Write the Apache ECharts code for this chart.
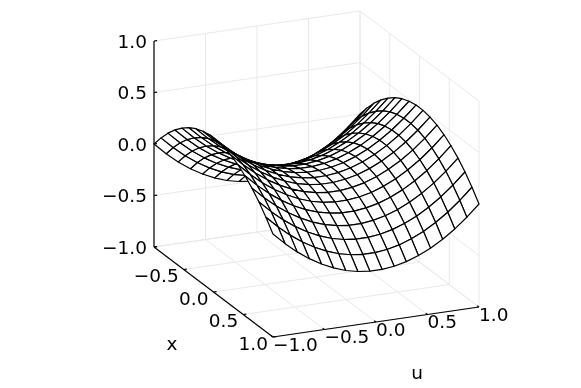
<!DOCTYPE html>
<html>
<head>
<meta charset="utf-8">
<style>
html, body { margin: 0; padding: 0; background: #fff; }
#main { width: 581px; height: 388px; }
</style>
<script src="https://cdn.jsdelivr.net/npm/echarts@6/dist/echarts.min.js"></script>
</head>
<body>
<div id="main"></div>
<script>
var uValues = [-1, -0.882, -0.765, -0.647, -0.529, -0.412, -0.294, -0.176, -0.059, 0.059, 0.176, 0.294, 0.412, 0.529, 0.647, 0.765, 0.882, 1];
var xValues = [-1, -0.882, -0.765, -0.647, -0.529, -0.412, -0.294, -0.176, -0.059, 0.059, 0.176, 0.294, 0.412, 0.529, 0.647, 0.765, 0.882, 1];
// one row per x, one column per u
var zValues = [
    [0, -0.111, -0.208, -0.291, -0.36, -0.415, -0.457, -0.484, -0.498, -0.498, -0.484, -0.457, -0.415, -0.36, -0.291, -0.208, -0.111, 0],
    [0.111, 0, -0.097, -0.18, -0.249, -0.304, -0.346, -0.373, -0.387, -0.387, -0.373, -0.346, -0.304, -0.249, -0.18, -0.097, 0, 0.111],
    [0.208, 0.097, 0, -0.083, -0.152, -0.207, -0.249, -0.276, -0.29, -0.29, -0.276, -0.249, -0.207, -0.152, -0.083, 0, 0.097, 0.208],
    [0.291, 0.18, 0.083, 0, -0.069, -0.124, -0.166, -0.193, -0.207, -0.207, -0.193, -0.166, -0.124, -0.069, 0, 0.083, 0.18, 0.291],
    [0.36, 0.249, 0.152, 0.069, 0, -0.055, -0.097, -0.124, -0.138, -0.138, -0.124, -0.097, -0.055, 0, 0.069, 0.152, 0.249, 0.36],
    [0.415, 0.304, 0.207, 0.124, 0.055, 0, -0.042, -0.069, -0.083, -0.083, -0.069, -0.042, 0, 0.055, 0.124, 0.207, 0.304, 0.415],
    [0.457, 0.346, 0.249, 0.166, 0.097, 0.042, 0, -0.027, -0.041, -0.041, -0.027, 0, 0.042, 0.097, 0.166, 0.249, 0.346, 0.457],
    [0.484, 0.373, 0.276, 0.193, 0.124, 0.069, 0.027, 0, -0.014, -0.014, 0, 0.027, 0.069, 0.124, 0.193, 0.276, 0.373, 0.484],
    [0.498, 0.387, 0.29, 0.207, 0.138, 0.083, 0.041, 0.014, 0, 0, 0.014, 0.041, 0.083, 0.138, 0.207, 0.29, 0.387, 0.498],
    [0.498, 0.387, 0.29, 0.207, 0.138, 0.083, 0.041, 0.014, 0, 0, 0.014, 0.041, 0.083, 0.138, 0.207, 0.29, 0.387, 0.498],
    [0.484, 0.373, 0.276, 0.193, 0.124, 0.069, 0.027, 0, -0.014, -0.014, 0, 0.027, 0.069, 0.124, 0.193, 0.276, 0.373, 0.484],
    [0.457, 0.346, 0.249, 0.166, 0.097, 0.042, 0, -0.027, -0.041, -0.041, -0.027, 0, 0.042, 0.097, 0.166, 0.249, 0.346, 0.457],
    [0.415, 0.304, 0.207, 0.124, 0.055, 0, -0.042, -0.069, -0.083, -0.083, -0.069, -0.042, 0, 0.055, 0.124, 0.207, 0.304, 0.415],
    [0.36, 0.249, 0.152, 0.069, 0, -0.055, -0.097, -0.124, -0.138, -0.138, -0.124, -0.097, -0.055, 0, 0.069, 0.152, 0.249, 0.36],
    [0.291, 0.18, 0.083, 0, -0.069, -0.124, -0.166, -0.193, -0.207, -0.207, -0.193, -0.166, -0.124, -0.069, 0, 0.083, 0.18, 0.291],
    [0.208, 0.097, 0, -0.083, -0.152, -0.207, -0.249, -0.276, -0.29, -0.29, -0.276, -0.249, -0.207, -0.152, -0.083, 0, 0.097, 0.208],
    [0.111, 0, -0.097, -0.18, -0.249, -0.304, -0.346, -0.373, -0.387, -0.387, -0.373, -0.346, -0.304, -0.249, -0.18, -0.097, 0, 0.111],
    [0, -0.111, -0.208, -0.291, -0.36, -0.415, -0.457, -0.484, -0.498, -0.498, -0.484, -0.457, -0.415, -0.36, -0.291, -0.208, -0.111, 0]
];
var tickValues = [-1, -0.5, 0, 0.5, 1];
var tickLabels = ['\u22121.0', '\u22120.5', '0.0', '0.5', '1.0'];

var labelFont = '18.5px "DejaVu Sans"';

// parallel projection of (u, x, z) onto the plane of the hidden axes
function project(u, x, z) {
    return [0.634 * u + 0.366 * x, 0.092 * u - 0.276 * x + 0.632 * z];
}

function segment(from, to) {
    return from.concat(to);
}

// light grid on the floor and the two back walls
var gridSegments = [];
tickValues.forEach(function (t) {
    gridSegments.push(segment([t, -1, -1], [t, 1, -1]));
    gridSegments.push(segment([-1, t, -1], [1, t, -1]));
    gridSegments.push(segment([t, -1, -1], [t, -1, 1]));
    gridSegments.push(segment([1, t, -1], [1, t, 1]));
    gridSegments.push(segment([-1, -1, t], [1, -1, t]));
    gridSegments.push(segment([1, -1, t], [1, 1, t]));
});

// black frame lines, with short ticks
var tickLen = 0.03;
var axisSegments = [
    segment([-1, -1, -1], [-1, -1, 1]),
    segment([-1, -1, -1], [-1, 1, -1]),
    segment([-1, 1, -1], [1, 1, -1])
];
tickValues.forEach(function (t) {
    axisSegments.push(segment([-1, -1, t], [-1 + tickLen, -1, t]));
    axisSegments.push(segment([-1, t, -1], [-1 + tickLen, t, -1]));
    axisSegments.push(segment([t, 1, -1], [t, 1 - tickLen, -1]));
});

// cells back to front so nearer ones cover farther ones
var cells = [];
for (var ix = 0; ix < xValues.length - 1; ix++) {
    for (var iu = uValues.length - 2; iu >= 0; iu--) {
        cells.push([iu, ix]);
    }
}

var labels = [];
tickValues.forEach(function (t, i) {
    labels.push({ pos: [-1, -1, t], text: tickLabels[i], dx: -7, dy: 2, align: 'right' });
    // the x axis leaves out its first label, the corner already has one
    if (i > 0) {
        labels.push({ pos: [-1, t, -1], text: tickLabels[i], dx: -5, dy: 8, align: 'right' });
    }
    labels.push({ pos: [t, 1, -1], text: tickLabels[i], dx: 0, dy: 9, align: 'left' });
});
labels.push({ pos: [-1, 1, -1], text: 'x', dx: -101, dy: 8, align: 'center' });
labels.push({ pos: [0.4, 1, -1], text: 'u', dx: 0, dy: 58, align: 'center' });

function segmentSeries(data, color, width) {
    return {
        type: 'custom',
        silent: true,
        data: data,
        encode: { x: 0, y: 1 },
        renderItem: function (params, api) {
            var item = data[params.dataIndex];
            var a = api.coord(project(item[0], item[1], item[2]));
            var b = api.coord(project(item[3], item[4], item[5]));
            return {
                type: 'line',
                shape: { x1: a[0], y1: a[1], x2: b[0], y2: b[1] },
                style: { stroke: color, lineWidth: width, fill: null }
            };
        }
    };
}

function renderCell(params, api) {
    var c = cells[params.dataIndex];
    var iu = c[0], ix = c[1];
    var corners = [[iu, ix], [iu + 1, ix], [iu + 1, ix + 1], [iu, ix + 1]];
    var points = corners.map(function (k) {
        return api.coord(project(uValues[k[0]], xValues[k[1]], zValues[k[1]][k[0]]));
    });
    return {
        type: 'polygon',
        shape: { points: points },
        style: { fill: '#fff', stroke: '#000', lineWidth: 1.2, lineJoin: 'round' }
    };
}

function renderLabel(params, api) {
    var l = labels[params.dataIndex];
    var p = api.coord(project(l.pos[0], l.pos[1], l.pos[2]));
    return {
        type: 'text',
        style: {
            text: l.text,
            x: p[0] + l.dx,
            y: p[1] + l.dy,
            font: labelFont,
            fill: '#000',
            align: l.align,
            verticalAlign: 'middle'
        }
    };
}

var chart = echarts.init(document.getElementById('main'), null, { renderer: 'canvas' });
chart.setOption({
    animation: false,
    backgroundColor: '#fff',
    grid: { left: 154, top: 11, width: 325, height: 326 },
    xAxis: { type: 'value', min: -1, max: 1, show: false },
    yAxis: { type: 'value', min: -1, max: 1, show: false },
    series: [
        segmentSeries(gridSegments, '#e9e9e9', 1),
        {
            type: 'custom',
            silent: true,
            data: cells,
            encode: { x: 0, y: 1 },
            renderItem: renderCell
        },
        segmentSeries(axisSegments, '#000', 1.2),
        {
            type: 'custom',
            silent: true,
            data: labels.map(function (l, i) { return [i, 0]; }),
            encode: { x: 0, y: 1 },
            renderItem: renderLabel
        }
    ]
});
</script>
</body>
</html>
